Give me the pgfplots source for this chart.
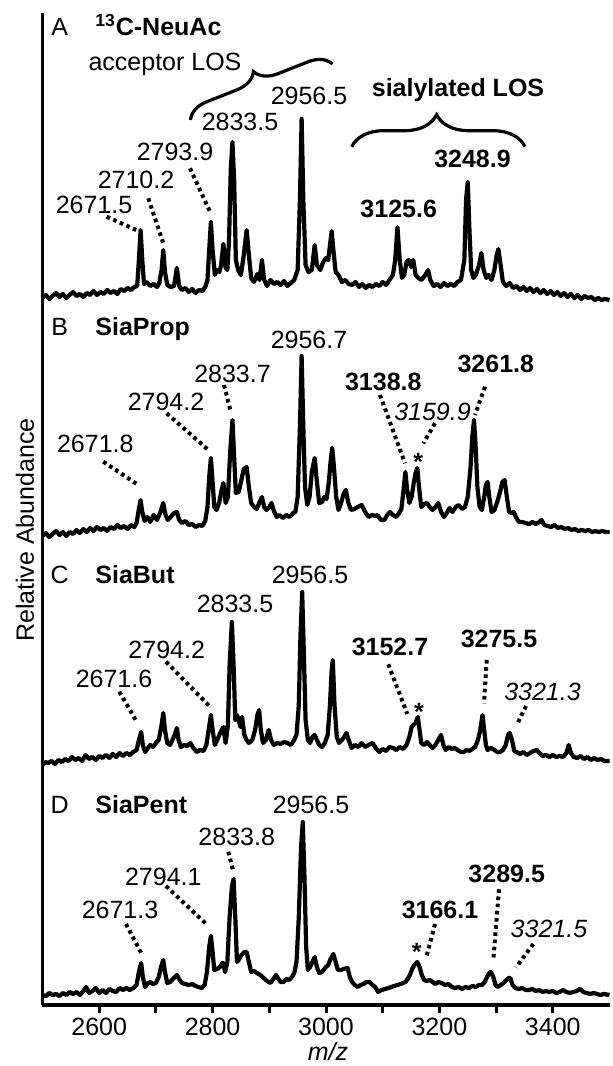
\documentclass[border=0pt]{standalone}
\usepackage{fontspec}
\setmainfont{Liberation Sans}
\usepackage{pgfplots}
\usepackage{pgfplotstable}
\pgfplotsset{compat=1.18}
\usetikzlibrary{decorations.pathreplacing}

% Panel A: 13C-NeuAc (intensity above its own baseline)
\pgfplotstableread{
mz i
2500 2
2506 5
2512 1
2518 4
2524 7
2530 3
2536 6
2542 2
2548 5
2554 8
2560 4
2566 6
2572 3
2578 7
2584 5
2590 9
2596 5
2602 8
2608 6
2614 10
2620 7
2626 9
2632 6
2638 11
2644 9
2650 12
2656 10
2662 13
2667 14
2670 40
2673 70
2676 40
2679 16
2684 18
2690 14
2696 16
2702 13
2706 17
2710 30
2713 50
2716 28
2720 15
2726 13
2732 14
2737 32
2741 14
2746 10
2752 12
2758 8
2764 11
2770 7
2776 10
2782 9
2787 13
2791 20
2794 50
2797 78
2800 50
2804 25
2808 30
2812 28
2815 35
2819 56
2823 32
2826 30
2829 60
2832 130
2835 158
2838 120
2841 40
2845 30
2850 25
2855 45
2860 70
2864 45
2868 22
2873 18
2879 26
2883 20
2887 40
2891 20
2896 14
2902 20
2908 16
2914 18
2920 15
2926 19
2932 14
2938 17
2944 20
2950 30
2954 100
2957 181
2960 100
2964 35
2969 28
2975 30
2980 55
2984 35
2990 30
2995 38
3000 42
3004 40
3007 55
3010 69
3013 50
3017 28
3022 25
3028 18
3034 20
3040 16
3046 15
3052 18
3058 13
3064 16
3070 12
3076 15
3082 13
3088 16
3094 14
3100 18
3106 15
3112 20
3118 25
3122 40
3126 73
3130 40
3134 22
3138 25
3142 38
3146 40
3150 33
3154 40
3158 25
3163 22
3168 20
3174 24
3180 30
3184 20
3190 14
3196 16
3202 13
3208 17
3214 14
3220 16
3226 14
3232 18
3238 20
3244 40
3247 100
3250 118
3253 70
3256 30
3260 22
3264 25
3270 35
3274 47
3278 30
3283 22
3287 25
3292 20
3297 30
3301 45
3304 51
3308 35
3312 18
3318 14
3324 17
3330 12
3336 14
3342 10
3348 13
3354 9
3360 12
3366 8
3372 11
3378 7
3384 10
3390 6
3396 9
3402 5
3408 8
3414 4
3420 7
3426 3
3432 6
3438 2
3444 5
3450 1
3456 4
3462 2
3468 3
3474 0
3480 2
3486 0
3492 1
3500 0
}\specA

% Panel B: SiaProp
\pgfplotstableread{
mz i
2500 1
2506 4
2512 0
2518 3
2524 6
2530 2
2536 5
2542 1
2548 5
2554 3
2560 7
2566 4
2572 8
2578 5
2584 9
2590 6
2596 10
2602 7
2608 9
2614 6
2620 10
2626 8
2632 12
2638 9
2644 11
2650 8
2656 12
2662 10
2666 14
2670 28
2673 37
2676 25
2680 16
2685 20
2690 15
2696 22
2702 17
2708 25
2713 34
2717 22
2721 17
2726 20
2732 24
2737 25
2741 17
2746 14
2752 16
2758 12
2764 13
2770 10
2776 12
2782 11
2787 16
2791 30
2794 60
2797 79
2800 55
2803 30
2807 27
2812 35
2815 45
2819 54
2823 34
2827 40
2831 85
2835 117
2838 80
2841 44
2846 45
2850 55
2855 68
2860 70
2864 50
2868 34
2873 30
2878 28
2883 35
2887 40
2891 30
2895 27
2900 30
2904 34
2908 26
2913 20
2918 22
2924 19
2930 22
2936 20
2942 24
2946 25
2950 40
2954 110
2957 181
2960 110
2963 50
2967 32
2971 40
2975 65
2980 79
2984 55
2988 34
2993 35
2997 40
3001 38
3005 55
3008 75
3011 89
3014 70
3018 40
3022 27
3027 35
3031 43
3035 47
3039 35
3044 27
3050 28
3056 30
3063 32
3069 25
3075 20
3081 22
3087 21
3091 22
3097 17
3103 17
3108 22
3113 25
3118 22
3124 20
3130 25
3133 28
3137 48
3140 65
3143 48
3147 34
3151 40
3155 55
3158 64
3161 69
3164 50
3168 30
3173 33
3178 34
3183 30
3188 27
3193 30
3198 34
3203 25
3208 20
3213 24
3218 29
3223 25
3229 30
3234 32
3240 28
3245 30
3250 40
3255 70
3258 100
3261 117
3264 90
3267 50
3271 30
3275 27
3279 40
3282 52
3285 55
3288 40
3292 25
3297 27
3302 35
3307 45
3311 55
3315 57
3319 40
3323 25
3327 24
3331 25
3335 20
3340 15
3346 15
3352 14
3358 13
3364 15
3370 13
3376 15
3380 17
3385 12
3391 11
3397 10
3403 12
3409 9
3415 10
3421 8
3427 9
3433 7
3439 8
3445 6
3451 7
3457 6
3463 7
3469 5
3475 6
3481 5
3487 6
3493 5
3500 5
}\specB

% Panel C: SiaBut
\pgfplotstableread{
mz i
2500 0
2505 3
2510 2
2516 4
2522 1
2528 5
2534 3
2540 6
2546 4
2552 8
2558 5
2564 7
2570 4
2576 10
2582 6
2588 8
2594 5
2600 9
2606 7
2612 10
2618 7
2624 11
2630 8
2636 12
2642 9
2648 12
2654 10
2660 13
2666 15
2670 25
2674 33
2677 20
2681 13
2686 17
2690 20
2695 18
2700 22
2705 25
2710 40
2713 52
2716 35
2720 22
2725 20
2729 25
2733 30
2737 37
2740 25
2744 18
2750 20
2755 19
2761 22
2766 17
2772 13
2778 15
2784 14
2789 20
2793 35
2797 50
2800 35
2804 20
2808 25
2812 30
2816 35
2819 38
2823 22
2827 40
2830 100
2834 143
2837 100
2840 45
2843 50
2846 45
2849 38
2852 48
2856 30
2860 25
2864 22
2870 25
2875 35
2879 50
2882 55
2885 35
2889 22
2894 25
2899 35
2903 25
2908 20
2914 22
2920 21
2926 23
2932 22
2938 20
2943 24
2948 30
2952 60
2955 130
2958 173
2961 110
2964 45
2968 25
2972 22
2976 28
2980 30
2984 25
2988 20
2993 18
2998 22
3003 30
3007 60
3010 95
3012 105
3015 60
3019 28
3023 22
3028 25
3032 28
3036 32
3040 25
3045 17
3051 20
3057 18
3063 22
3069 18
3075 20
3082 22
3088 17
3094 13
3100 16
3106 14
3112 18
3118 17
3124 15
3130 18
3136 16
3142 20
3147 28
3151 38
3154 40
3158 42
3162 48
3165 35
3168 22
3173 20
3178 23
3183 20
3188 17
3193 20
3198 25
3203 30
3207 20
3211 15
3217 18
3222 16
3227 17
3232 15
3238 13
3243 13
3248 15
3253 14
3258 16
3263 18
3268 25
3272 35
3276 50
3279 35
3282 20
3285 15
3291 17
3297 15
3302 13
3307 13
3312 15
3317 20
3321 30
3324 32
3328 25
3332 14
3336 13
3342 11
3348 13
3354 10
3360 12
3366 14
3372 15
3376 12
3382 9
3388 10
3394 8
3400 10
3406 8
3412 9
3418 8
3424 12
3428 20
3432 12
3437 8
3443 7
3449 9
3455 6
3461 8
3467 5
3473 7
3479 5
3485 6
3491 4
3500 4
}\specC

% Panel D: SiaPent
\pgfplotstableread{
mz i
2500 2
2506 1
2512 4
2518 2
2524 3
2530 1
2536 4
2542 2
2548 5
2554 3
2560 5
2566 2
2572 6
2577 10
2582 4
2588 6
2594 9
2600 4
2606 7
2612 4
2618 8
2624 6
2630 5
2636 9
2642 7
2648 9
2654 7
2660 9
2666 12
2670 25
2674 34
2677 20
2681 10
2686 14
2690 15
2695 13
2700 14
2705 20
2709 30
2713 37
2716 25
2720 14
2725 15
2730 18
2737 22
2742 17
2746 14
2752 13
2758 12
2764 13
2770 11
2775 10
2781 9
2786 12
2790 25
2794 50
2797 61
2800 45
2803 27
2808 28
2813 30
2817 34
2819 34
2822 25
2826 35
2830 80
2834 110
2837 118
2840 80
2843 35
2847 38
2851 42
2856 45
2860 45
2864 35
2868 25
2873 26
2878 24
2884 22
2890 19
2896 16
2902 14
2907 18
2912 22
2916 18
2920 15
2925 15
2930 18
2935 17
2940 20
2944 24
2948 35
2952 80
2956 150
2959 175
2962 120
2965 50
2968 27
2972 30
2976 35
2980 40
2984 30
2988 24
2993 25
2997 28
3000 30
3004 32
3008 38
3013 43
3017 35
3021 27
3026 27
3031 28
3038 29
3042 20
3046 15
3051 12
3056 10
3061 12
3066 13
3071 15
3077 15
3082 12
3087 10
3092 5
3098 7
3104 8
3110 9
3115 10
3120 11
3126 12
3131 13
3136 14
3140 15
3144 18
3148 22
3152 28
3156 32
3161 35
3165 30
3169 22
3173 17
3178 16
3183 17
3188 15
3193 13
3198 15
3204 14
3210 12
3216 13
3222 10
3228 9
3234 10
3240 8
3246 10
3252 9
3258 11
3264 10
3270 12
3275 12
3280 15
3284 20
3288 24
3291 25
3295 20
3299 12
3303 10
3308 12
3313 14
3318 17
3322 19
3325 19
3329 12
3334 9
3340 8
3346 9
3352 7
3358 7
3364 8
3370 6
3376 7
3382 5
3388 6
3394 5
3400 6
3406 4
3412 5
3418 7
3424 5
3430 4
3436 5
3442 6
3448 8
3454 5
3460 4
3466 3
3472 4
3478 3
3484 2
3490 3
3500 2
}\specD

\tikzset{
  lab/.style={font=\fontsize{12.5}{14}\selectfont, inner sep=0pt, text height=9pt, text depth=0pt},
  lead/.style={line width=2pt, dash pattern=on 1.8pt off 1.8pt},
  brc/.style={line width=1.6pt, decorate},
}

\begin{document}
\begin{tikzpicture}
\begin{axis}[
  x=0.2835pt, y=0.5pt,
  xmin=2500, xmax=3500, ymin=0, ymax=992,
  axis x line*=bottom, axis y line*=left,
  axis line style={line width=1.7pt, black},
  clip=false,
  ytick=\empty,
  xtick={2600,2800,3000,3200,3400},
  minor xtick={2700,2900,3100,3300},
  tick align=outside,
  major tick length=4pt, minor tick length=4pt,
  every tick/.style={line width=1.5pt, black},
  /pgf/number format/assume math mode=true,
  /pgf/number format/set thousands separator={},
  xticklabel style={font=\fontsize{12.5}{14}\selectfont, inner sep=0pt, text height=9pt, text depth=0pt, anchor=north, yshift=-2pt},
  xlabel={\textit{m/z}},
  xlabel style={at={(axis description cs:0.5035,-0.0464)}, anchor=center, font=\fontsize{12.5}{14}\selectfont, inner sep=0pt, text height=9pt, text depth=0pt},
  ylabel={Relative Abundance},
  ylabel style={at={(axis description cs:-0.0309,0.4788)}, anchor=center, font=\fontsize{12.5}{14}\selectfont, inner sep=0pt, text height=9pt, text depth=0pt},
]
\addplot[black, line width=2.1pt, line join=round] table[x=mz, y expr=\thisrow{i}+705] {\specA};
\addplot[black, line width=2.1pt, line join=round] table[x=mz, y expr=\thisrow{i}+468] {\specB};
\addplot[black, line width=2.1pt, line join=round] table[x=mz, y expr=\thisrow{i}+240] {\specC};
\addplot[black, line width=2.1pt, line join=round] table[x=mz, y expr=\thisrow{i}+8] {\specD};
\coordinate (O) at (axis cs:2500,0);
\end{axis}

\begin{scope}[shift={(O)}, xshift=-21.25pt, yshift=502.5pt, x=0.5pt, y=-0.5pt]
% Panel A
\node[lab] at (59.7,26.5) {A};
\node[lab, anchor=west] at (95,26.5) {\textbf{\textsuperscript{13}C-NeuAc}};
\node[lab] at (165,62) {acceptor LOS};
\draw[brc, decoration={brace, amplitude=11pt, aspect=0.5}] (190.5,120) -- (332.5,64);
\node[lab] at (309,96) {2956.5};
\node[lab] at (240,121.7) {2833.5};
\node[lab] at (175,151.7) {2793.9};
\node[lab] at (136,180) {2710.2};
\node[lab] at (94,205) {2671.5};
\node[lab] at (458,88) {\textbf{sialylated LOS}};
\draw[brc, decoration={brace, amplitude=16pt, aspect=0.49}] (351.7,146.7) -- (525,146.7);
\node[lab] at (472.5,158.3) {\textbf{3248.9}};
\node[lab] at (398.7,208.3) {\textbf{3125.6}};
\draw[lead] (106.7,216.7) -- (140,231.7);
\draw[lead] (148.3,198.3) -- (163.3,243.3);
\draw[lead] (190,168.3) -- (210,211.7);
% Panel B
\node[lab] at (59.7,326.7) {B};
\node[lab, anchor=west] at (95,326.7) {\textbf{SiaProp}};
\node[lab] at (309,340) {2956.7};
\node[lab] at (232.5,373.3) {2833.7};
\node[lab] at (166,401.7) {2794.2};
\node[lab] at (95.3,443.3) {2671.8};
\node[lab] at (383.3,381.7) {\textbf{3138.8}};
\node[lab] at (432.5,411.7) {\textit{3159.9}};
\node[lab] at (495.8,363.3) {\textbf{3261.8}};
\node[lab] at (418.3,462) {\textbf{*}};
\draw[lead] (103.3,461.7) -- (138.3,485);
\draw[lead] (166.7,413.3) -- (208.3,450);
\draw[lead] (224,385) -- (230.7,411.7);
\draw[lead] (380,395) -- (405,463.3);
\draw[lead] (435,423.3) -- (423.3,443.3);
\draw[lead] (485,386.7) -- (475,415);
% Panel C
\node[lab] at (59.7,575) {C};
\node[lab, anchor=west] at (95,575) {\textbf{SiaBut}};
\node[lab] at (310,575) {2956.5};
\node[lab] at (235,603.3) {2833.5};
\node[lab] at (166.7,650) {2794.2};
\node[lab] at (114,678.3) {2671.6};
\node[lab] at (390,646.7) {\textbf{3152.7}};
\node[lab] at (499,638.3) {\textbf{3275.5}};
\node[lab] at (542.5,691.7) {\textit{3321.3}};
\node[lab] at (419,712) {\textbf{*}};
\draw[lead] (119.3,691.7) -- (136.7,721.7);
\draw[lead] (166,661.7) -- (210,706.7);
\draw[lead] (388.3,664.3) -- (407.3,714);
\draw[lead] (486.7,660) -- (484,703.3);
\draw[lead] (526,706) -- (516.7,725);
% Panel D
\node[lab] at (59.7,805) {D};
\node[lab, anchor=west] at (95,805) {\textbf{SiaPent}};
\node[lab] at (311,805) {2956.5};
\node[lab] at (236.7,836.7) {2833.8};
\node[lab] at (163.3,876.7) {2794.1};
\node[lab] at (120,910) {2671.3};
\node[lab] at (440,910) {\textbf{3166.1}};
\node[lab] at (506.7,873.3) {\textbf{3289.5}};
\node[lab] at (549,928.3) {\textit{3321.5}};
\node[lab] at (416.7,952) {\textbf{*}};
\draw[lead] (126,924) -- (141.7,954);
\draw[lead] (166,886) -- (207.3,925);
\draw[lead] (228.3,851.7) -- (233.3,871.7);
\draw[lead] (435,924) -- (426,958.3);
\draw[lead] (499,889.3) -- (493.3,960);
\draw[lead] (533.3,944) -- (516,967.3);
\pgfresetboundingbox
\path[use as bounding box] (0,0) rectangle (612,1066);
\end{scope}
\end{tikzpicture}
\end{document}
